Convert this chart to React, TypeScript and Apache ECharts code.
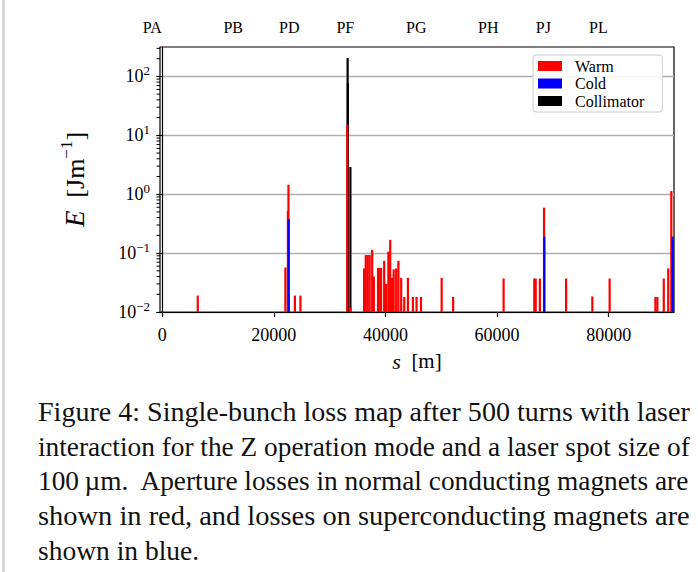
import React, { useEffect, useRef } from 'react';
import * as echarts from 'echarts';

// ---- data ----
const warmS = [6350, 22050, 22500, 22600, 23750, 24750, 33150, 33700, 36150, 36450, 36800, 37150, 37600, 37900, 38650, 38950, 39200, 39750, 40100, 40500, 40830, 41150, 41450, 41900, 42300, 42800, 43350, 44000, 44900, 45550, 46350, 50050, 52100, 61150, 66650, 66900, 67650, 68400, 72350, 77050, 80150, 88350, 88700, 89850, 90650, 91200];
const warmE = [0.019, 0.057, 0.52, 1.45, 0.019, 0.019, 15.2, 0.012, 0.055, 0.093, 0.093, 0.093, 0.114, 0.04, 0.056, 0.056, 0.056, 0.074, 0.03, 0.106, 0.168, 0.038, 0.053, 0.055, 0.074, 0.038, 0.018, 0.038, 0.018, 0.018, 0.018, 0.038, 0.018, 0.037, 0.037, 0.037, 0.037, 0.59, 0.037, 0.0184, 0.037, 0.018, 0.018, 0.037, 0.055, 1.13];
const coldS = [22650, 68450, 91450];
const coldE = [0.38, 0.19, 0.19];
const collS = [33200, 33250, 33700];
const collE = [206, 77, 2.9];

const xTicks = [0, 20000, 40000, 60000, 80000];
const yTicks = [0.01, 0.1, 1, 10, 100];
const yTickExp = ['\u22122', '\u22121', '0', '1', '2'];
const yMinor = [0.02, 0.03, 0.04, 0.05, 0.06, 0.07, 0.08, 0.09, 0.2, 0.3, 0.4, 0.5, 0.6, 0.7, 0.8, 0.9, 2, 3, 4, 5, 6, 7, 8, 9, 20, 30, 40, 50, 60, 70, 80, 90, 200, 300];

const sections = ['PA', 'PB', 'PD', 'PF', 'PG', 'PH', 'PJ', 'PL'];
const sectionS = [-1790, 12720, 22760, 32800, 45520, 58420, 68280, 78140];

const captionLines = [
  'Figure 4: Single-bunch loss map after 500 turns with laser',
  'interaction for the Z operation mode and a laser spot size of',
  '100\u2009\u00b5m.  Aperture losses in normal conducting magnets are',
  'shown in red, and losses on superconducting magnets are',
  'shown in blue.',
];

const X_MIN = -400;
const X_MAX = 91700;
const Y_MIN = 0.01;
const Y_MAX = 316;
const FONT = '"Liberation Serif", "DejaVu Serif", serif';

function barSeries(name: string, s: number[], e: number[], color: string, z: number) {
  return {
    type: 'custom',
    name,
    z,
    clip: true,
    itemStyle: { color },
    encode: { x: 0, y: 1 },
    data: s.map((x, i) => [x, e[i]]),
    renderItem: (params: any, api: any) => {
      const x = api.value(0);
      const y = api.value(1);
      const top = api.coord([x, y]);
      const base = api.coord([x, Y_MIN]);
      return {
        type: 'rect',
        shape: { x: top[0] - 1, y: top[1], width: 2.2, height: base[1] - top[1] },
        style: { fill: color },
      };
    },
  };
}

export default function App() {
  const ref = useRef<HTMLDivElement>(null);
  useEffect(() => {
    if (!ref.current) return;
    const chart = echarts.init(ref.current, null, { renderer: 'svg' });
    const option: any = {
      animation: false,
      backgroundColor: '#fff',
      grid: { left: 160, top: 47, width: 514, height: 265, show: true, borderColor: '#000', borderWidth: 1.2, backgroundColor: 'transparent' },
      legend: {
        data: ['Warm', 'Cold', 'Collimator'],
        orient: 'vertical',
        left: 533,
        top: 55,
        icon: 'rect',
        itemWidth: 24,
        itemHeight: 10,
        itemGap: 1.5,
        padding: [3, 18, 3, 5],
        borderColor: '#cccccc',
        borderWidth: 1,
        borderRadius: 3,
        backgroundColor: 'rgba(255,255,255,0.85)',
        textStyle: { fontFamily: FONT, fontSize: 16, color: '#000', lineHeight: 16, height: 16, padding: [0, 0, 0, 8] },
        selectedMode: false,
      },
      xAxis: {
        type: 'value',
        min: X_MIN,
        max: X_MAX,
        name: '{it|s}  [m]',
        nameLocation: 'middle',
        nameGap: 38,
        nameTextStyle: { fontFamily: FONT, fontSize: 21, color: '#000', rich: { it: { fontFamily: FONT, fontSize: 22, fontStyle: 'italic', color: '#000' } } },
        axisLine: { show: true, lineStyle: { color: '#000', width: 1.2 } },
        axisTick: { show: true, length: 5, customValues: xTicks, lineStyle: { color: '#000', width: 1.2 } },
        axisLabel: { customValues: xTicks, margin: 14, fontFamily: FONT, fontSize: 18, color: '#000', formatter: (v: number) => String(v) },
        splitLine: { show: false },
      },
      yAxis: {
        type: 'log',
        logBase: 10,
        min: Y_MIN,
        max: Y_MAX,
        name: '{it|E}  [Jm{sup|\u22121}]',
        nameLocation: 'middle',
        nameGap: 68,
        nameTextStyle: {
          fontFamily: FONT, fontSize: 26, color: '#000', lineHeight: 34,
          rich: {
            it: { fontFamily: FONT, fontSize: 27, fontStyle: 'italic', color: '#000', lineHeight: 34 },
            sup: { fontFamily: FONT, fontSize: 17, color: '#000', verticalAlign: 'top', lineHeight: 16 },
          },
        },
        axisLine: { show: true, lineStyle: { color: '#000', width: 1.2 } },
        axisTick: { show: true, length: 6, customValues: yTicks, lineStyle: { color: '#000', width: 1.2 } },
        axisLabel: {
          customValues: yTicks,
          margin: 10,
          fontFamily: FONT,
          fontSize: 18,
          color: '#000',
          lineHeight: 24,
          formatter: (v: number) => {
            const i = yTicks.findIndex((t) => Math.abs(Math.log10(t) - Math.log10(v)) < 1e-6);
            return i < 0 ? '' : `10{sup|${yTickExp[i]}}`;
          },
          rich: { sup: { fontFamily: FONT, fontSize: 13, color: '#000', verticalAlign: 'top', lineHeight: 12 } },
        },
        splitLine: { show: true, lineStyle: { color: '#b0b0b0', width: 1.3 } },
        minorSplitLine: { show: false },
      },
      series: [
        barSeries('Collimator', collS, collE, '#000000', 2),
        barSeries('Warm', warmS, warmE, '#ff0000', 3),
        barSeries('Cold', coldS, coldE, '#0000ff', 4),
        {
          type: 'custom',
          silent: true,
          clip: false,
          z: 5,
          encode: { x: 0, y: 1 },
          data: yMinor.map((v) => [X_MIN, v]),
          renderItem: (params: any, api: any) => {
            const p = api.coord([api.value(0), api.value(1)]);
            return { type: 'line', shape: { x1: p[0] - 3.5, y1: p[1], x2: p[0], y2: p[1] }, style: { stroke: '#000', lineWidth: 1 } };
          },
        },
      ],
    };
    chart.setOption(option);

    // section labels on top, positioned through the x axis scale
    const secEls = sections.map((t, i) => {
      const px = chart.convertToPixel({ xAxisIndex: 0 }, sectionS[i]) as number;
      return {
        type: 'text',
        x: px,
        y: 27,
        style: { text: t, fontFamily: FONT, fontSize: 16, fill: '#000', align: 'center', verticalAlign: 'middle' },
      };
    });

    // caption, justified by horizontal scaling of each full line
    const capFs = 27.5;
    const capX = 38;
    const capW = 652;
    const ctx = document.createElement('canvas').getContext('2d')!;
    ctx.font = `${capFs}px "Liberation Serif"`;
    const capEls = captionLines.map((t, i) => {
      const w = ctx.measureText(t).width;
      const justify = i < captionLines.length - 1;
      return {
        type: 'text',
        x: capX,
        y: 412 + i * 34.5,
        scaleX: justify && w > 0 ? capW / w : 1,
        style: { text: t, fontFamily: '"Liberation Serif", serif', fontSize: capFs, fill: '#111', align: 'left', verticalAlign: 'middle' },
      };
    });

    chart.setOption({
      graphic: [
        { type: 'rect', x: 2, y: 0, shape: { width: 3, height: 572 }, style: { fill: '#d6d6d6' }, silent: true },
        ...secEls,
        ...capEls,
      ],
    });

    return () => chart.dispose();
  }, []);
  return <div ref={ref} style={{ position: 'absolute', left: 0, top: 0, width: 698, height: 572 }} />;
}
